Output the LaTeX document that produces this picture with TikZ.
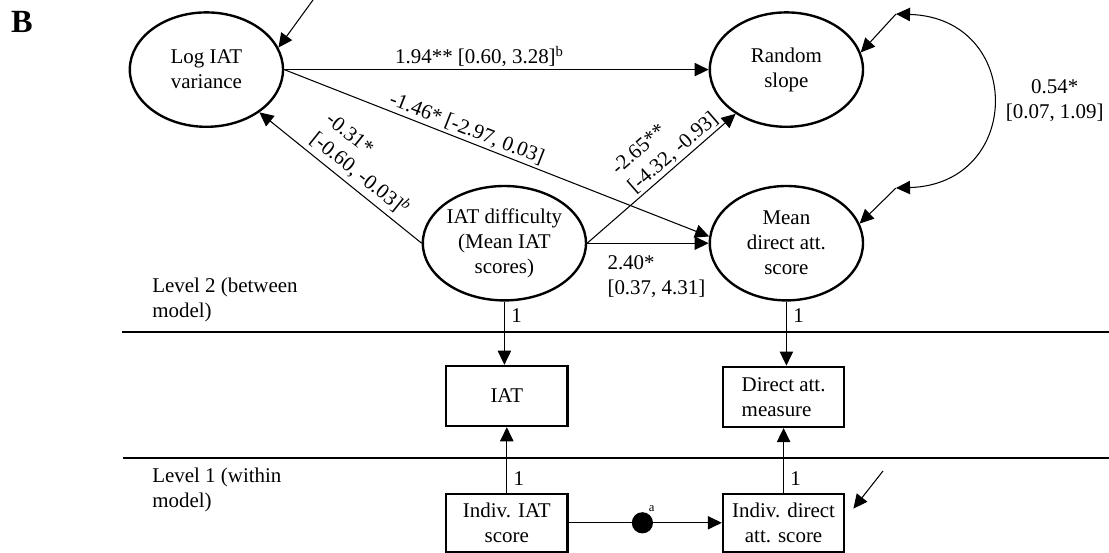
\documentclass[tikz,border=0pt]{standalone}
\usepackage{fontspec}
\setmainfont{Liberation Serif}
\usetikzlibrary{positioning, calc, arrows.meta, shapes.geometric}

\begin{document}
\begin{tikzpicture}[
    font=\fontsize{14.9}{17.8}\selectfont,
    % 定义样式
    latent/.style={draw, ellipse, line width=1.7pt, minimum width=3.83cm, minimum height=2.86cm, inner sep=0pt, align=center},
    observed/.style={draw, rectangle, line width=1.7pt, minimum width=3.03cm, minimum height=1.5cm, inner sep=0pt, align=center},
    arrow/.style={->, >={Triangle[length=10pt, width=9.5pt]}, line width=0.75pt},
    coef/.style={inner sep=1.5pt, align=left},
    level/.style={anchor=north west, inner sep=0pt, align=left},
    sep/.style={line width=0.9pt}
]

% --- 画布大小 ---
\useasboundingbox (0,0) rectangle (27.725,-13.825);

% --- 绘制节点 ---

% 1. 潜变量 (Level 2)
\node[latent] (Log) at (5.16,-1.74) {Log IAT\\variance};
\node[latent] (RS)  at (19.66,-1.74) {Random\\slope};
\node[latent] (D)   at (12.61,-6.08) {IAT difficulty\\(Mean IAT\\scores)};
\node[latent] (MD)  at (19.66,-6.08) {Mean\\direct att.\\score};

% 2. 观测变量
\node[observed] (IAT) at (12.67,-9.9) {IAT};
\node[observed, align=left] (DAM) at (19.59,-9.92) {Direct att.\\measure};
\node[observed, minimum height=1.45cm] (II) at (12.67,-13.07) {Indiv. IAT\\score};
\node[observed, minimum height=1.45cm] (ID) at (19.59,-13.07) {Indiv. direct\\att. score};

% 3. 中间的黑点
\node[circle, fill, inner sep=0pt, minimum size=0.53cm,
      label={[font=\fontsize{9}{10}\selectfont, inner sep=0pt, label distance=1pt]60:a}] (dot) at (16.06,-13.07) {};

% 4. 层标签
\node[font=\bfseries\fontsize{23}{26}\selectfont, inner sep=0pt] (B) at (0.55,-0.56) {B};
\node[level] (L2) at (3.8,-6.95) {Level 2 (between\\model)};
\node[level] (L1) at (3.8,-11.7) {Level 1 (within\\model)};

% 分隔线
\draw[sep] (3.05,-8.3) -- (27.725,-8.3);
\draw[sep] (3.08,-11.45) -- (27.725,-11.45);

% 残差箭头的起点
\coordinate (eL) at (7.825,0);
\coordinate (eR) at (22.4,-0.35);
\coordinate (eM) at (22.4,-4.7);
\coordinate (eI) at (22.075,-11.775);

% --- 绘制连接线 ---

% Level 2 路径系数
\draw[arrow] (Log.east) -- node[coef, above, pos=0.46] {1.94** [0.60, 3.28]\textsuperscript{b}} (RS.west);
\draw[arrow] (Log.east) -- node[coef, above, sloped, pos=0.42] {-1.46* [-2.97, 0.03]} (MD.175);
\draw[arrow] (D.west) -- node[coef, above=2pt, sloped, pos=0.44] {-0.31*\\{[}-0.60, -0.03{]}\textsuperscript{\itshape b}} (Log);
\draw[arrow] (D.east) -- node[coef, above, sloped, pos=0.63] {-2.65**\\{[}-4.32, -0.93{]}} (RS);
\draw[arrow] (D.east) -- node[coef, below=7pt, pos=0.57] {2.40*\\{[}0.37, 4.31{]}} (MD.west);

% 因子载荷 (固定为 1)
\foreach \a/\b in {D/IAT, MD/DAM}
    \draw[arrow] (\a) -- node[coef, right=3pt, pos=0.22] {1} (\a |- \b.north);
\foreach \a/\b in {II/IAT, ID/DAM}
    \draw[arrow] (\a) -- node[coef, right=3pt, pos=0.22] {1} (\b);

% 残差
\foreach \e/\n in {eL/Log.17, eR/RS.13, eM/MD.15}
    \draw[arrow] (\e) -- (\n);
\draw[arrow] (eI) -- ([shift={(0.2,-0.4)}]ID.north east);

% 协方差
\draw[arrow, <->] (eR) .. controls (25.6,-0.45) and (25.6,-4.6) .. node[coef, right=8pt, align=center, pos=0.5] {0.54*\\{[}0.07, 1.09{]}} (eM);

% Level 1 随机斜率
\draw[line width=0.75pt] (II) -- (dot);
\draw[arrow] (dot) -- (ID);

\end{tikzpicture}
\end{document}
